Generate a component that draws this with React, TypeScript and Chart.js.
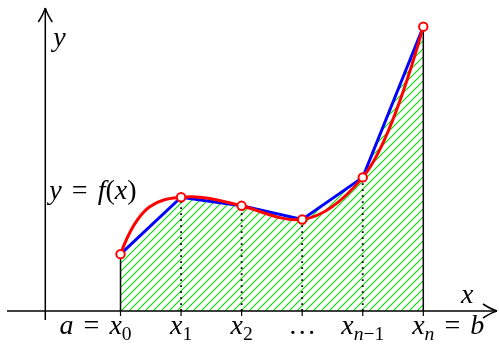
import { useEffect, useRef } from "react";
import { Chart, registerables } from "chart.js";

Chart.register(...registerables);

// ---- data ----
const nodeIndex = [0, 1, 2, 3, 4, 5];
const fValues = [2.0, 4.0, 3.7, 3.22, 4.7, 10.0];
// slope of the red curve y = f(x) at each node (data units)
const fSlopes = [5.8, 0.25, -0.55, 0.25, 2.55, 7.5];
const tickPrefix = ["a = ", "", "", "", "", ""];
const tickCore = ["x_0", "x_1", "x_2", "\u2026", "x_{n\u22121}", "x_n"];
const tickSuffix = ["", "", "", "", "", " = b"];
const curveLabel = "y = f(x)";
const xAxisLabel = "x";
const yAxisLabel = "y";

// ---- layout constants ----
const W = 499;
const H = 345;
const X_MIN = -1.99;
const X_MAX = 6.25;
const Y_MIN = -1.196;
const Y_MAX = 10.939;
const Y_AXIS_AT = -1.242;
const FONT = '"Liberation Serif", "DejaVu Serif", serif';
const FS = 28;
const SPACE = 0.36;

type Run = { text: string; italic: boolean; sub: boolean };

function parseMath(s: string): Run[] {
  const runs: Run[] = [];
  let i = 0;
  while (i < s.length) {
    const c = s[i];
    if (c === "_") {
      let grp = "";
      if (s[i + 1] === "{") {
        const j = s.indexOf("}", i + 2);
        grp = s.slice(i + 2, j);
        i = j + 1;
      } else {
        grp = s[i + 1];
        i += 2;
      }
      for (const ch of grp) runs.push({ text: ch, italic: /[a-z]/i.test(ch), sub: true });
      continue;
    }
    runs.push({ text: c, italic: /[a-z]/i.test(c), sub: false });
    i++;
  }
  return runs;
}

function runFont(r: Run, size: number) {
  const s = r.sub ? size * 0.7 : size;
  return `${r.italic ? "italic " : ""}${s}px ${FONT}`;
}

function mathWidth(ctx: CanvasRenderingContext2D, s: string, size: number) {
  let w = 0;
  for (const r of parseMath(s)) {
    if (r.text === " ") {
      w += size * SPACE;
      continue;
    }
    ctx.font = runFont(r, size);
    w += ctx.measureText(r.text).width;
  }
  return w;
}

function drawMath(ctx: CanvasRenderingContext2D, s: string, x: number, y: number, size: number) {
  let cx = x;
  ctx.textBaseline = "alphabetic";
  ctx.textAlign = "left";
  ctx.fillStyle = "#000";
  for (const r of parseMath(s)) {
    if (r.text === " ") {
      cx += size * SPACE;
      continue;
    }
    ctx.font = runFont(r, size);
    ctx.fillText(r.text, cx, r.sub ? y + size * 0.2 : y);
    cx += ctx.measureText(r.text).width;
  }
  return cx - x;
}

function arrowHead(ctx: CanvasRenderingContext2D, tx: number, ty: number, dir: "up" | "right") {
  const pts = (a: number, b: number) => (dir === "up" ? [tx + a, ty + b] : [tx - b, ty + a]);
  ctx.beginPath();
  for (const s of [-1, 1]) {
    const [ex, ey] = pts(s * 7, 14);
    const [cx, cy] = pts(s * 1.8, 6);
    ctx.moveTo(ex, ey);
    ctx.quadraticCurveTo(cx, cy, tx, ty);
  }
  ctx.stroke();
}

function makeHatch(): CanvasPattern | string {
  const c = document.createElement("canvas");
  const n = 8;
  c.width = n;
  c.height = n;
  const g = c.getContext("2d");
  if (!g) return "rgba(0,220,0,0.3)";
  g.strokeStyle = "#10dc10";
  g.lineWidth = 1.2;
  g.beginPath();
  g.moveTo(-1, n + 1);
  g.lineTo(n + 1, -1);
  g.moveTo(-1, 1);
  g.lineTo(1, -1);
  g.moveTo(n - 1, n + 1);
  g.lineTo(n + 1, n - 1);
  g.stroke();
  const p = g.createPattern(c, "repeat");
  return p ?? "rgba(0,220,0,0.3)";
}

// Cubic Hermite curve through the red dataset's points using the node slopes,
// written into Chart.js' bezier control points (mapped through the chart's scales).
const hermitePlugin = {
  id: "hermite",
  beforeDatasetDraw(chart: Chart, args: any) {
    if (args.index !== 0) return;
    const meta = args.meta;
    const line: any = meta.dataset;
    if (line && line.updateControlPoints) line.updateControlPoints(chart.chartArea, meta.iAxis);
    const xs = chart.scales.x;
    const ys = chart.scales.y;
    const p: any[] = meta.data;
    const n = p.length;
    for (let i = 0; i < n; i++) {
      const x = nodeIndex[i];
      const y = fValues[i];
      const d = fSlopes[i];
      const hPrev = i > 0 ? (x - nodeIndex[i - 1]) / 3 : 0;
      const hNext = i < n - 1 ? (nodeIndex[i + 1] - x) / 3 : 0;
      p[i].cp1x = xs.getPixelForValue(x - hPrev);
      p[i].cp1y = ys.getPixelForValue(y - d * hPrev);
      p[i].cp2x = xs.getPixelForValue(x + hNext);
      p[i].cp2y = ys.getPixelForValue(y + d * hNext);
    }
    if (line) line._path = undefined;
  },
};

const decorPlugin = {
  id: "decor",
  afterDraw(chart: Chart) {
    const ctx = chart.ctx;
    const xs = chart.scales.x;
    const ys = chart.scales.y;
    const y0 = ys.getPixelForValue(0);
    const yAx = xs.getPixelForValue(Y_AXIS_AT);
    ctx.save();
    ctx.strokeStyle = "#000";
    ctx.lineWidth = 1.5;
    ctx.lineCap = "butt";
    ctx.beginPath();
    ctx.moveTo(7, y0);
    ctx.lineTo(W - 2, y0);
    ctx.stroke();
    arrowHead(ctx, W - 2, y0, "right");
    ctx.beginPath();
    ctx.moveTo(yAx, y0 + 9);
    ctx.lineTo(yAx, 8);
    ctx.stroke();
    arrowHead(ctx, yAx, 8, "up");
    ctx.lineWidth = 1.2;
    ctx.beginPath();
    for (const i of nodeIndex) {
      const px = xs.getPixelForValue(i);
      ctx.moveTo(px, y0 - 2);
      ctx.lineTo(px, y0 + 5);
    }
    ctx.stroke();
    const base = y0 + 23;
    nodeIndex.forEach((i) => {
      const px = xs.getPixelForValue(i);
      const pw = mathWidth(ctx, tickPrefix[i], FS);
      const cw = mathWidth(ctx, tickCore[i], FS);
      drawMath(ctx, tickPrefix[i] + tickCore[i] + tickSuffix[i], px - cw / 2 - pw, base, FS);
    });
    drawMath(ctx, yAxisLabel, yAx + 8, 46, FS);
    drawMath(ctx, xAxisLabel, 461, y0 - 8, FS);
    drawMath(ctx, curveLabel, yAx + 4, 199, FS);
    ctx.restore();
  },
};

export default function App() {
  const ref = useRef<HTMLCanvasElement | null>(null);
  useEffect(() => {
    if (!ref.current) return;
    const pts = nodeIndex.map((x, i) => ({ x, y: fValues[i] }));
    const verticals = nodeIndex.map((x, i) => ({
      data: [
        { x, y: 0 },
        { x, y: fValues[i] },
      ],
      borderColor: "#000",
      borderWidth: i === 0 || i === nodeIndex.length - 1 ? 1.5 : 1.8,
      borderDash: i === 0 || i === nodeIndex.length - 1 ? [] : [1.8, 4.2],
      borderCapStyle: "butt" as const,
      pointRadius: 0,
      fill: false,
      tension: 0,
      order: 2,
    }));
    const chart = new Chart(ref.current, {
      type: "line",
      data: {
        datasets: [
          {
            data: pts,
            borderColor: "#ff0000",
            borderWidth: 3,
            tension: 0.4,
            fill: false,
            pointRadius: 4.2,
            pointBorderWidth: 2,
            pointBackgroundColor: "#ffffff",
            pointBorderColor: "#ff0000",
            order: 0,
          },
          {
            data: pts,
            borderColor: "#0000ff",
            borderWidth: 3,
            tension: 0,
            fill: "origin",
            backgroundColor: makeHatch() as any,
            pointRadius: 0,
            order: 3,
          },
          ...verticals,
        ],
      },
      options: {
        animation: false,
        responsive: false,
        devicePixelRatio: 1,
        layout: { padding: 0, autoPadding: false },
        scales: {
          x: { type: "linear", display: false, min: X_MIN, max: X_MAX },
          y: { type: "linear", display: false, min: Y_MIN, max: Y_MAX },
        },
        plugins: {
          legend: { display: false },
          tooltip: { enabled: false },
          filler: { drawTime: "beforeDatasetsDraw" },
        },
        events: [],
      },
      plugins: [hermitePlugin, decorPlugin],
    });
    return () => chart.destroy();
  }, []);
  return (
    <div style={{ position: "fixed", left: 0, top: 0, width: W, height: H, background: "#fff" }}>
      <canvas ref={ref} width={W} height={H} style={{ width: W, height: H, display: "block" }} />
    </div>
  );
}
